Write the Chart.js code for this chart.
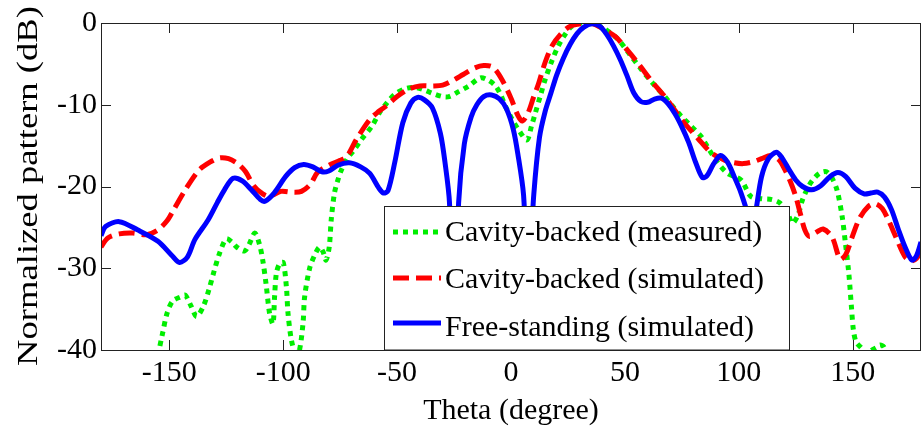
<!DOCTYPE html>
<html>
<head>
<meta charset="utf-8">
<script src="https://cdn.jsdelivr.net/npm/chart.js@4/dist/chart.umd.min.js"></script>
<style>
  html, body { margin: 0; padding: 0; background: #fff; }
  #wrap { width: 922px; height: 435px; position: relative; }
</style>
</head>
<body>
<div id="wrap"><canvas id="patternChart"></canvas></div>
<script>
// Radiation pattern cuts, normalized to the main beam (dB)
const seriesLabels = ['Cavity-backed (measured)', 'Cavity-backed (simulated)', 'Free-standing (simulated)'];
const xTickValues = [-150, -100, -50, 0, 50, 100, 150];
const yTickValues = [0, -10, -20, -30, -40];

const thetaMeasured = [-158, -155, -153, -151, -148.5, -145, -143, -140.5, -138, -135, -132.5, -130.5, -128, -125,
  -122.5, -120.5, -117, -115, -112.5, -110.5, -109, -107.5, -106, -104.5, -103.8, -103, -101.5, -100, -98.6, -97.9,
  -96.4, -94.5, -93, -91.3, -90.6, -88.4, -86.2, -84, -82.5, -81.2, -79.8, -78.9, -77.5, -76, -74.5, -71.7, -68.8,
  -65.8, -61, -57.8, -54, -50.5, -46, -41.8, -38, -34.5, -30, -27.2, -23, -18.5, -13.4, -10, -6.8, -4.5, -2.4, 0.5,
  3.4, 7, 9, 10.7, 13, 15, 18, 20.8, 23.5, 26.7, 31, 36, 41, 47, 52, 57.3, 62, 67.5, 71, 74.7, 79, 83.5, 87, 90.8,
  95.1, 101, 105.3, 110, 114.5, 118, 121.5, 123.5, 126, 128, 131, 133.7, 136, 138.5, 141, 143.2, 145.4, 146.8,
  148.3, 149.4, 150.3, 151.5, 154, 156, 158.5, 160.5, 162, 163.6, 165, 167];
const gainMeasured = [-43, -40.5, -38, -35.5, -34, -33.5, -33.3, -34.6, -35.9, -34.6, -32.5, -30.5, -28.2, -26.4,
  -26.8, -27.4, -27.9, -27.1, -25.7, -27, -29, -32, -35.5, -36.8, -33.5, -30.6, -29.4, -29.3, -32.3, -35.5,
  -38.8, -40.5, -40.2, -36.7, -33.5, -30, -28.4, -27.4, -28, -29, -27.4, -24, -20.8, -19.2, -18, -16.5, -15.5,
  -14.3, -12.6, -11, -9.6, -8.6, -8, -7.9, -8.2, -8.6, -9, -9, -8.4, -7.7, -6.7, -7, -7.7, -8.8, -10.2, -11.8,
  -13.1, -14.3, -12.6, -11, -8.8, -6.9, -4.6, -2.8, -1.5, -0.4, 0, -0.1, -0.7, -2, -3.8, -5.7, -7.3, -9, -10.2,
  -11.4, -12.6, -13.9, -15.5, -17.1, -18.4, -19.2, -21.2, -21.5, -21.6, -22, -23.3, -24.5, -23.5, -21.6, -19.8,
  -18.8, -18.3, -18.2, -19, -20.5, -23.7, -26.9, -30.6, -34.5, -37.5, -39, -39.8, -40.5, -40, -39.7, -39.4,
  -39.6, -41, -44];

const thetaCavitySim = [-180, -177, -172, -166, -160, -155, -151, -148, -143, -137, -132, -128, -124, -120, -116.5,
  -113, -109, -106, -101, -96, -92, -88, -85, -80, -75, -72, -68, -62, -58, -55, -50, -45, -40, -34.5, -30, -26,
  -21, -16, -12, -8, -4, 0, 3, 5, 7.5, 10, 12, 15, 18, 22, 26, 31, 36, 41, 46, 51, 56, 62, 67.5, 72, 76, 82, 88,
  94, 98, 102, 106, 110, 114, 117.5, 120, 122.5, 125, 127, 129, 131, 134, 137, 141, 144.5, 147, 150, 153, 157,
  160, 163, 166, 169, 173, 176, 178, 180];
const gainCavitySim = [-27.4, -26.3, -25.8, -25.7, -25.9, -25.3, -24.2, -22.8, -20.4, -18, -17, -16.5, -16.6,
  -17.2, -18.2, -19.9, -20.9, -21.2, -20.6, -20.7, -20.6, -19.7, -18.3, -17.4, -16.8, -16.3, -14.3, -11.8, -10.8,
  -10.2, -9, -8.1, -7.7, -7.7, -7.6, -7.1, -6.3, -5.5, -5.2, -5.4, -6.9, -9.2, -11.3, -12, -11, -9, -7.5, -4.8,
  -2.8, -1.3, -0.4, -0.1, -0.1, -0.8, -1.7, -3.3, -5, -7.2, -9, -10.7, -12.2, -14.1, -15.9, -16.8, -17.1, -17.2,
  -17, -16.6, -16.2, -16.7, -17.8, -19.3, -21.2, -23.3, -25.3, -26.1, -25.6, -25.2, -26.2, -28.9, -28.3, -26,
  -23.9, -22.4, -22.1, -22.7, -24.3, -26.2, -28.6, -29.1, -28.8, -28];

const thetaFreeSim = [-180, -178, -172, -164, -155, -149, -145.5, -142, -138.8, -133, -129, -125.8, -122, -118,
  -114, -110, -108, -104, -99, -95, -91, -87, -83, -80, -76, -71, -66, -62, -58, -56, -54, -51, -47.5, -44, -41,
  -38, -34.5, -31, -29, -27, -25, -23, -20.5, -17.5, -15, -12, -8.5, -5, -2, 1, 3, 5.5, 7.5, 10, 12.5, 15, 17.5,
  20, 23, 26, 29, 32, 35.5, 39, 42, 45, 48, 51, 54, 57, 60, 63, 66, 69, 72, 75, 78, 81, 84, 86, 89, 92, 95, 98,
  101, 104, 105.5, 107.5, 110, 113, 116.5, 119, 122, 125, 128, 132, 136, 140, 143.5, 147, 151, 155, 158, 161,
  164, 167, 170, 173, 176, 178, 180];
const gainFreeSim = [-26, -24.9, -24.3, -25.3, -26.7, -28.4, -29.3, -28.6, -26.5, -24.1, -22, -20.4, -19, -19.3,
  -20.4, -21.6, -21.8, -20.8, -18.8, -17.7, -17.3, -17.6, -18.2, -18.1, -17.4, -17.1, -17.6, -18.4, -20.2, -20.8,
  -20.5, -17, -12.2, -9.8, -9.1, -9.4, -10.4, -13.5, -17, -22, -40, -22, -14.8, -11.5, -10, -9, -8.8, -9.3,
  -10.5, -13, -16, -21, -32, -21, -14, -10.8, -8.6, -6.4, -4.3, -2.6, -1.3, -0.5, -0.1, -0.4, -1.4, -2.8, -4.5,
  -6.5, -8.6, -9.6, -9.7, -9.3, -9.2, -9.9, -11.1, -12.7, -14.6, -17, -18.9, -18.7, -17.2, -16.2, -17, -18.8,
  -20.8, -23.5, -26, -23, -18.8, -16.6, -15.8, -16.5, -17.9, -19.2, -20, -20.4, -19.9, -18.8, -18.3, -18.8,
  -20.2, -20.9, -20.8, -20.7, -21.3, -22.8, -25.2, -27.4, -29, -28.5, -26.8];

const serifFont = '"Liberation Serif", "Times New Roman", serif';

function toPoints(xs, ys) {
  return xs.map((x, i) => ({ x: x, y: ys[i] }));
}

// box, inward tick marks, rotated y title and a boxed legend over the plot
const matlabAxes = {
  id: 'matlabAxes',
  afterDatasetsDraw(chart) {
    const ctx = chart.ctx;
    const area = chart.chartArea;
    const xs = chart.scales.x;
    const ys = chart.scales.y;
    const tick = 10;

    ctx.save();
    ctx.strokeStyle = '#222';
    ctx.lineWidth = 1;
    ctx.beginPath();
    xTickValues.forEach(v => {
      const px = Math.round(xs.getPixelForValue(v)) + 0.5;
      ctx.moveTo(px, area.top);
      ctx.lineTo(px, area.top + tick);
      ctx.moveTo(px, area.bottom);
      ctx.lineTo(px, area.bottom - tick);
    });
    yTickValues.forEach(v => {
      const py = Math.round(ys.getPixelForValue(v)) + 0.5;
      ctx.moveTo(area.left, py);
      ctx.lineTo(area.left + tick, py);
      ctx.moveTo(area.right, py);
      ctx.lineTo(area.right - tick, py);
    });
    ctx.stroke();

    // legend
    const box = { left: 384.5, top: 206.5, right: 789.5, bottom: 350 };
    ctx.fillStyle = '#fff';
    ctx.fillRect(box.left, box.top, box.right - box.left, box.bottom - box.top);
    ctx.strokeStyle = '#222';
    ctx.strokeRect(box.left, box.top, box.right - box.left, box.bottom - box.top);
    const lineRows = [232, 278, 323];
    const textRows = [233, 280.5, 328];
    chart.data.datasets.forEach((ds, i) => {
      ctx.save();
      ctx.strokeStyle = ds.borderColor;
      ctx.lineWidth = ds.borderWidth;
      ctx.setLineDash(ds.borderDash || []);
      ctx.lineCap = 'butt';
      ctx.beginPath();
      ctx.moveTo(393, lineRows[i]);
      ctx.lineTo(441, lineRows[i]);
      ctx.stroke();
      ctx.restore();
      ctx.fillStyle = '#000';
      ctx.font = '30px ' + serifFont;
      ctx.textAlign = 'left';
      ctx.textBaseline = 'middle';
      ctx.fillText(ds.label, 445, textRows[i]);
    });

    // axes frame
    ctx.strokeStyle = '#222';
    ctx.strokeRect(Math.round(area.left) + 0.5, Math.round(area.top) + 0.5,
      Math.round(area.right - area.left) - 1, Math.round(area.bottom - area.top));

    // y axis title, stretched along its length
    ctx.translate(37, 186);
    ctx.rotate(-Math.PI / 2);
    ctx.scale(1.22, 1);
    ctx.fillStyle = '#000';
    ctx.font = '30px ' + serifFont;
    ctx.textAlign = 'center';
    ctx.textBaseline = 'alphabetic';
    ctx.fillText('Normalized pattern (dB)', 0, 0);
    ctx.restore();
  }
};

const ctx = document.getElementById('patternChart').getContext('2d');

new Chart(ctx, {
  type: 'line',
  data: {
    datasets: [
      {
        label: seriesLabels[0],
        data: toPoints(thetaMeasured, gainMeasured),
        borderColor: '#00ee00',
        borderWidth: 5,
        borderDash: [5, 5],
        borderCapStyle: 'butt',
        pointRadius: 0,
        tension: 0.3,
        clip: 0,
        order: 3
      },
      {
        label: seriesLabels[1],
        data: toPoints(thetaCavitySim, gainCavitySim),
        borderColor: '#ff0000',
        borderWidth: 5,
        borderDash: [16, 7],
        borderCapStyle: 'butt',
        pointRadius: 0,
        tension: 0.3,
        clip: 0,
        order: 2
      },
      {
        label: seriesLabels[2],
        data: toPoints(thetaFreeSim, gainFreeSim),
        borderColor: '#0000ff',
        borderWidth: 5,
        pointRadius: 0,
        tension: 0.3,
        clip: 0,
        order: 1
      }
    ]
  },
  options: {
    responsive: true,
    maintainAspectRatio: false,
    animation: false,
    devicePixelRatio: 1,
    layout: { padding: { top: 23, right: 1, left: 0, bottom: 0 } },
    plugins: {
      legend: { display: false },
      tooltip: { enabled: false }
    },
    scales: {
      x: {
        type: 'linear',
        min: -180,
        max: 180,
        afterBuildTicks: scale => { scale.ticks = xTickValues.map(v => ({ value: v })); },
        afterFit: scale => { scale.height = 85; },
        grid: { display: false, drawTicks: false },
        border: { display: false },
        ticks: {
          padding: 5,
          color: '#000',
          font: { family: serifFont, size: 30 },
          maxRotation: 0,
          callback: v => String(v)
        },
        title: {
          display: true,
          text: 'Theta (degree)',
          color: '#000',
          font: { family: serifFont, size: 30 },
          padding: { top: 0, bottom: 6 }
        }
      },
      y: {
        min: -40,
        max: 0,
        afterBuildTicks: scale => { scale.ticks = yTickValues.map(v => ({ value: v })); },
        afterFit: scale => { scale.width = 101; },
        grid: { display: false, drawTicks: false },
        border: { display: false },
        ticks: {
          padding: 4,
          color: '#000',
          font: { family: serifFont, size: 30 },
          callback: v => String(v)
        }
      }
    }
  },
  plugins: [matlabAxes]
});
</script>
</body>
</html>
